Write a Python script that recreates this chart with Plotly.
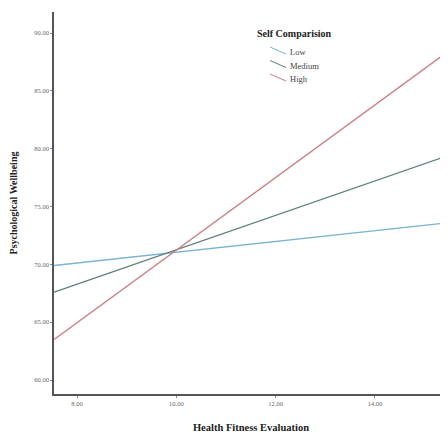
import plotly.graph_objects as go

x_vals = [7.54, 15.47]
low = [69.9, 73.6]
medium = [67.6, 79.4]
high = [63.5, 88.4]
series_names = ["Low", "Medium", "High"]
colors = ["#79b3d3", "#5b807c", "#c97f84"]
x_ticks = [8, 10, 12, 14]
y_ticks = [60, 65, 70, 75, 80, 85, 90]
legend_title = "Self Comparision"

W, H = 440, 431
ML, MR, MT, MB = 46, 0, 4, 45
PW, PH = W - ML - MR, H - MT - MB


def px(xp):
    # page x -> paper x (page has 8px body margin)
    return (xp - 8 - ML) / PW


def py(yp):
    return (H - MB - (yp - 8)) / PH


fig = go.Figure()
for name, ys, c in zip(series_names, [low, medium, high], colors):
    fig.add_trace(go.Scatter(x=x_vals, y=ys, mode="lines", name=name,
                             line=dict(color=c, width=1.3), showlegend=False))

axis_common = dict(showline=True, linecolor="#555555", linewidth=1.5,
                   showgrid=False, zeroline=False, ticks="outside",
                   ticklen=2, tickcolor="#888888",
                   tickfont=dict(family="Liberation Serif", size=6.5, color="#666666"))

# manual legend (diagonal swatches like the reference)
shapes = []
annotations = [dict(xref="paper", yref="paper", x=px(294), y=py(33),
                    text=f"<b>{legend_title}</b>", showarrow=False,
                    xanchor="center", yanchor="middle",
                    font=dict(family="Liberation Serif", size=10, color="#222222"))]
for i, (name, c) in enumerate(zip(series_names, colors)):
    dy = 13.5 * i
    shapes.append(dict(type="line", xref="paper", yref="paper",
                       x0=px(270), y0=py(47 + dy), x1=px(286), y1=py(54 + dy),
                       line=dict(color=c, width=1)))
    annotations.append(dict(xref="paper", yref="paper", x=px(288), y=py(52 + dy),
                            text=name, showarrow=False, xanchor="left",
                            yanchor="middle",
                            font=dict(family="Liberation Serif", size=8.5, color="#444444")))

fig.update_layout(
    width=W, height=H,
    margin=dict(l=ML, r=MR, t=MT, b=MB),
    plot_bgcolor="white", paper_bgcolor="white",
    showlegend=False,
    shapes=shapes, annotations=annotations,
    xaxis=dict(range=[7.537, 15.47], tickvals=x_ticks,
               ticktext=[f"{v:.2f}" for v in x_ticks],
               title=dict(text="<b>Health Fitness Evaluation</b>", standoff=18,
                          font=dict(family="Liberation Serif", size=10.5, color="#222222")),
               **axis_common),
    yaxis=dict(range=[58.79, 91.82], tickvals=y_ticks,
               ticktext=[f"{v:.2f}" for v in y_ticks],
               title=dict(text="<b>Psychological Wellbeing</b>", standoff=16,
                          font=dict(family="Liberation Serif", size=10, color="#222222")),
               **axis_common),
)

fig.write_html("out.html")
